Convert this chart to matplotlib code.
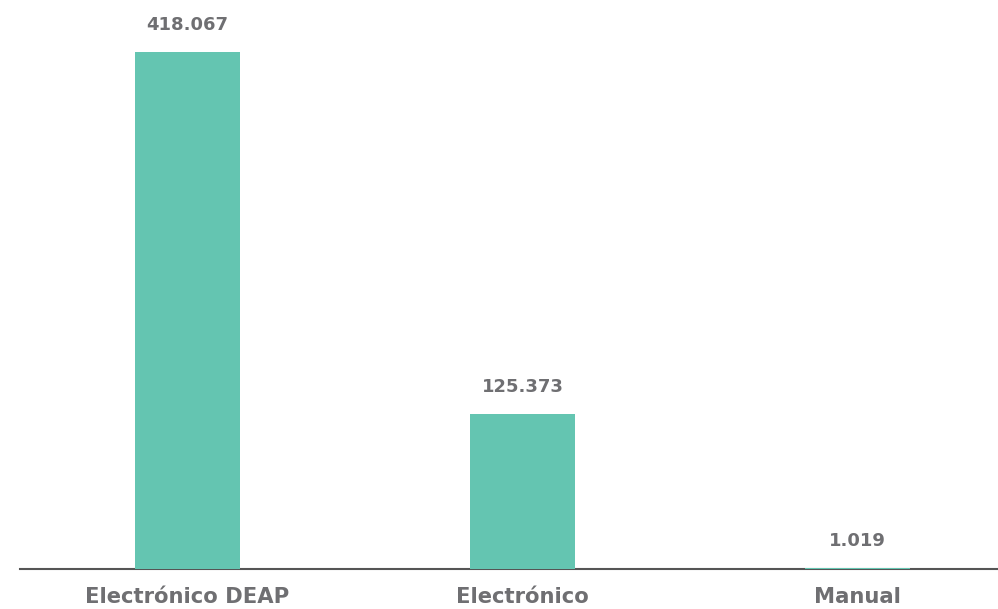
import matplotlib
matplotlib.use("Agg")
import matplotlib.pyplot as plt

categories = ["Electrónico DEAP", "Electrónico", "Manual"]
values = [418067, 125373, 1019]

bar_color = "#64c5b1"
text_color = "#6f6f72"

fig = plt.figure(figsize=(9.98, 6.09), dpi=100)
ax = fig.add_axes([20/998, 40/609, 978/998, 569/609])

x = list(range(len(categories)))
ax.bar(x, values, width=0.313, color=bar_color, zorder=3)

def fmt(v):
    return f"{v:,}".replace(",", ".")

for xi, v in zip(x, values):
    ax.annotate(fmt(v), (xi, v), xytext=(0, 13), textcoords="offset points",
                ha="center", va="bottom", fontsize=13, fontweight="bold",
                color=text_color, family="DejaVu Sans")

ax.set_xlim(-0.5, 2.42)
ax.set_ylim(0, 418067 * 569 / 517)
ax.set_xticks(x)
ax.set_xticklabels(categories, fontsize=15.2, fontweight="bold", color=text_color, family="DejaVu Sans")
ax.tick_params(axis="x", length=0, pad=13)
ax.set_yticks([])
for s in ["top", "right", "left"]:
    ax.spines[s].set_visible(False)
ax.spines["bottom"].set_color("#555555")
ax.spines["bottom"].set_linewidth(1.5)
ax.spines["bottom"].set_zorder(2)
ax.patch.set_alpha(0)

fig.savefig("out.png", dpi=100)
